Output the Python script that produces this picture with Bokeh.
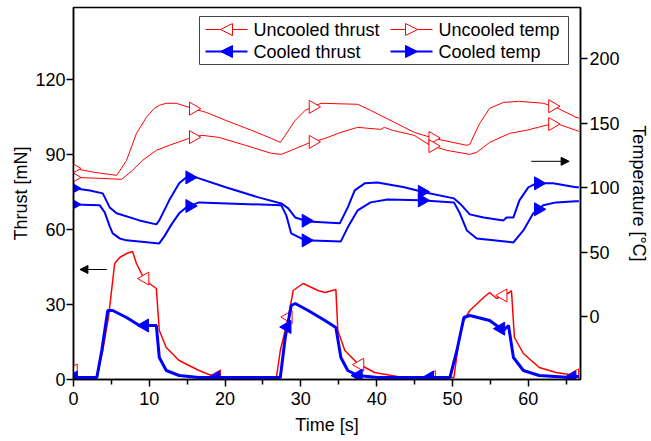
import numpy as np
from bokeh.plotting import figure
from bokeh.models import (Range1d, LinearAxis, FixedTicker, Arrow, NormalHead,
                          BoxAnnotation, Label)
from bokeh.embed import file_html
from bokeh.resources import INLINE

# ---------------- data ----------------
# Uncooled thrust [mN]
t_uncooled_thrust = [0, 0.33, 0.59, 3.08, 3.86, 4.65, 5.43, 6.09, 7.0, 7.79, 8.31, 9.10, 10.01,
                     10.93, 11.32, 12.24, 13.94, 16.56, 17.87, 19.57, 26.77, 27.29, 28.34, 28.99,
                     30.30, 32.26, 33.18, 34.62, 34.88, 35.80, 37.50, 39.72, 42.73, 50.20, 50.85,
                     51.51, 52.29, 54.12, 54.91, 55.83, 57.53, 57.79, 58.18, 59.36, 61.45, 63.68,
                     66.30, 66.69]
uncooled_thrust = [3.6, 3.6, 0.8, 0.8, 11.6, 25.6, 46.4, 48.8, 50.4, 51.2, 46.4, 41.6, 38.4,
                   36.4, 19.6, 12.8, 7.6, 3.6, 2.0, 0.8, 0.8, 11.6, 24.8, 35.6,
                   38.4, 35.6, 34.8, 36.0, 19.6, 11.6, 6.4, 2.8, 1.2, 0.8, 15.6,
                   23.6, 27.6, 32.8, 34.8, 32.4, 34.8, 35.6, 16.8, 10.4, 4.8, 2.8,
                   1.6, 1.6]

# Cooled thrust [mN]
t_cooled_thrust = [0, 3.08, 3.73, 4.52, 5.17, 7.00, 8.70, 10.93, 11.32, 12.24, 13.94, 16.56,
                   27.29, 27.94, 28.73, 29.25, 30.96, 33.18, 34.62, 35.28, 36.19, 37.50, 40.12,
                   49.67, 50.59, 51.51, 52.29, 54.91, 56.74, 57.40, 58.05, 59.36, 61.45, 65.64,
                   66.30, 66.69]
cooled_thrust = [0.8, 0.8, 11.6, 27.6, 27.6, 24.8, 21.6, 21.6, 8.8, 3.6, 1.6, 0.8,
                 0.8, 16.8, 29.6, 30.4, 27.6, 23.6, 20.8, 8.8, 3.6, 1.6, 0.8,
                 0.8, 11.6, 24.8, 25.6, 23.6, 19.6, 21.6, 8.8, 3.6, 1.6, 0.8,
                 1.2, 1.2]

# Uncooled temperatures [C] (two thermocouples)
t_uncooled_temp_a = [0, 2.81, 5.69, 7.00, 8.31, 9.62, 10.67, 11.32, 12.24, 13.55, 15.64, 17.47,
                     20.09, 23.49, 26.11, 27.29, 27.94, 29.25, 30.56, 32.66, 37.50, 39.20, 42.34,
                     44.96, 47.58, 51.90, 52.29, 53.60, 54.91, 56.74, 58.84, 61.98, 63.68, 66.30,
                     66.69]
uncooled_temp_a = [115.0, 111.9, 109.6, 121.2, 142.2, 154.7, 161.7, 164.0, 165.6, 165.6, 161.7,
                   158.6, 152.3, 144.6, 138.3, 135.2, 140.7, 152.3, 160.1, 165.6, 164.8, 160.1,
                   150.8, 143.0, 138.3, 132.9, 133.7, 150.0, 161.7, 166.3, 167.1, 165.6, 162.4,
                   154.7, 154.0]
t_uncooled_temp_b = [0, 3.47, 6.35, 7.79, 9.10, 10.93, 12.63, 15.64, 16.95, 19.18, 22.71, 26.11,
                     27.42, 28.73, 30.96, 33.18, 35.28, 37.50, 40.51, 41.03, 42.08, 44.96, 47.05,
                     49.28, 52.29, 53.21, 54.91, 57.53, 59.75, 62.37, 63.68, 66.30, 66.69]
uncooled_temp_b = [108.0, 107.3, 106.5, 113.5, 121.2, 129.0, 132.9, 139.1, 140.7, 139.1, 132.9,
                   126.7, 125.9, 129.0, 134.5, 138.3, 143.0, 146.9, 145.3, 146.9, 144.6, 140.7,
                   132.9, 129.0, 125.9, 127.5, 135.2, 142.2, 144.6, 148.5, 150.0, 144.6, 143.8]

# Cooled temperatures [C] (two thermocouples)
t_cooled_temp_a = [0, 2.16, 3.86, 4.78, 5.69, 8.70, 10.93, 11.32, 12.63, 13.94, 14.86, 16.16,
                   20.09, 24.41, 27.42, 28.34, 29.25, 30.96, 35.14, 36.19, 37.11, 38.42, 40.12,
                   43.65, 46.27, 50.20, 50.98, 52.29, 54.12, 56.74, 57.13, 58.05, 58.84, 60.01,
                   61.06, 63.28, 66.30, 66.69]
cooled_temp_a = [99.5, 97.9, 95.6, 84.7, 80.1, 74.6, 71.5, 74.6, 90.2, 103.4, 108.0, 108.0,
                 100.3, 92.5, 87.8, 83.9, 76.9, 73.8, 72.3, 84.7, 97.9, 103.4, 104.1,
                 100.3, 96.4, 91.7, 87.8, 79.3, 76.9, 74.6, 76.9, 76.9, 90.2, 100.3,
                 103.4, 103.4, 100.3, 100.3]
t_cooled_temp_b = [0, 3.47, 4.12, 4.78, 5.17, 6.09, 7.00, 11.32, 11.98, 13.02, 13.94, 14.86,
                   16.56, 27.42, 28.08, 28.73, 30.56, 35.28, 36.19, 37.50, 39.20, 41.43, 45.75,
                   50.20, 50.98, 51.90, 53.21, 58.05, 59.36, 60.67, 61.98, 63.68, 66.30, 66.69]
cooled_temp_b = [87.0, 86.3, 80.8, 70.0, 64.5, 60.6, 59.1, 56.7, 62.2, 72.3, 80.1, 84.7,
                 88.6, 86.3, 78.5, 64.5, 59.1, 58.3, 69.2, 82.4, 88.6, 90.9, 90.2,
                 88.6, 80.1, 66.8, 60.6, 57.5, 66.8, 80.1, 86.3, 88.6, 89.4, 89.4]

# marker times [s]
uncooled_thrust_marks = [0, 9.45, 18.9, 28.35, 37.8, 47.25, 56.7, 66.15]
cooled_thrust_marks = [0, 9.4, 18.8, 28.2, 37.6, 47.0, 56.4, 65.8]
uncooled_temp_marks = [0, 15.8, 31.6, 47.4, 63.2]
cooled_temp_marks = [0, 15.33, 30.67, 46.0, 61.33]

# axes
x_ticks = [0, 10, 20, 30, 40, 50, 60]
x_minor = [5, 15, 25, 35, 45, 55, 65]
thrust_ticks = [0, 30, 60, 90, 120]
temp_ticks = [0, 50, 100, 150, 200]

# arrows (time, value)
left_arrow = dict(x_start=4.4, x_end=0.85, y=44.0)
right_arrow = dict(x_start=60.4, x_end=65.4, y=120.5)

# legend labels
legend_labels = ["Uncooled thrust", "Cooled thrust", "Uncooled temp", "Cooled temp"]

RED = "#ff0000"
BLUE = "#0000ff"
FONT = "Liberation Sans"

p = figure(width=651, height=441, x_range=Range1d(0, 66.9), y_range=Range1d(0, 148.8),
           output_backend="svg", toolbar_location=None,
           min_border_left=73, min_border_right=68, min_border_top=7, min_border_bottom=62)
p.extra_y_ranges = {"temp": Range1d(-49, 240)}
p.grid.visible = False
p.outline_line_color = "black"
p.outline_line_width = 1.5
p.background_fill_color = "white"


def style_axis(ax):
    ax.axis_line_width = 1.5
    ax.axis_line_color = "black"
    ax.major_tick_line_width = 1.5
    ax.minor_tick_line_width = 1.5
    ax.major_tick_in = 0
    ax.minor_tick_in = 0
    ax.major_tick_out = 7
    ax.minor_tick_out = 5
    ax.major_label_text_font = FONT
    ax.major_label_text_font_size = "18px"
    ax.major_label_text_color = "black"
    ax.axis_label_text_font = FONT
    ax.axis_label_text_font_size = "18px"
    ax.axis_label_text_font_style = "normal"
    ax.axis_label_text_color = "black"


xa = p.xaxis[0]
style_axis(xa)
xa.ticker = FixedTicker(ticks=x_ticks, minor_ticks=x_minor)
xa.axis_label = "Time [s]"
xa.major_label_standoff = 5
xa.axis_label_standoff = 7

ya = p.yaxis[0]
style_axis(ya)
ya.ticker = FixedTicker(ticks=thrust_ticks)
ya.axis_label = "Thrust [mN]"
ya.major_label_standoff = 1
ya.axis_label_standoff = 1

ra = LinearAxis(y_range_name="temp")
style_axis(ra)
ra.ticker = FixedTicker(ticks=temp_ticks)
ra.axis_label = "Temperature [°C]"
ra.major_label_standoff = 2
ra.axis_label_standoff = 6
p.add_layout(ra, "right")

MS = 13
# thrust
p.line(t_uncooled_thrust, uncooled_thrust, color=RED, line_width=1.5)
p.scatter(uncooled_thrust_marks, np.interp(uncooled_thrust_marks, t_uncooled_thrust, uncooled_thrust),
          marker="triangle", angle=np.pi / 2, size=MS, line_color=RED, fill_color="white", line_width=1)
p.line(t_cooled_thrust, cooled_thrust, color=BLUE, line_width=3)
p.scatter(cooled_thrust_marks, np.interp(cooled_thrust_marks, t_cooled_thrust, cooled_thrust),
          marker="triangle", angle=np.pi / 2, size=MS, line_color=BLUE, fill_color=BLUE)

# temperatures
p.line(t_uncooled_temp_a, uncooled_temp_a, color=RED, line_width=1, y_range_name="temp")
p.scatter(uncooled_temp_marks, np.interp(uncooled_temp_marks, t_uncooled_temp_a, uncooled_temp_a),
          marker="triangle", angle=-np.pi / 2, size=MS, line_color=RED, fill_color="white",
          line_width=1, y_range_name="temp")
p.line(t_uncooled_temp_b, uncooled_temp_b, color=RED, line_width=1, y_range_name="temp")
p.scatter(uncooled_temp_marks, np.interp(uncooled_temp_marks, t_uncooled_temp_b, uncooled_temp_b),
          marker="triangle", angle=-np.pi / 2, size=MS, line_color=RED, fill_color="white",
          line_width=1, y_range_name="temp")
p.line(t_cooled_temp_a, cooled_temp_a, color=BLUE, line_width=2, y_range_name="temp")
p.scatter(cooled_temp_marks, np.interp(cooled_temp_marks, t_cooled_temp_a, cooled_temp_a),
          marker="triangle", angle=-np.pi / 2, size=MS, line_color=BLUE, fill_color=BLUE,
          y_range_name="temp")
p.line(t_cooled_temp_b, cooled_temp_b, color=BLUE, line_width=2, y_range_name="temp")
p.scatter(cooled_temp_marks, np.interp(cooled_temp_marks, t_cooled_temp_b, cooled_temp_b),
          marker="triangle", angle=-np.pi / 2, size=MS, line_color=BLUE, fill_color=BLUE,
          y_range_name="temp")

# arrows
p.add_layout(Arrow(end=NormalHead(size=8, fill_color="black", line_color="black"),
                   x_start=left_arrow["x_start"], y_start=left_arrow["y"],
                   x_end=left_arrow["x_end"], y_end=left_arrow["y"], line_width=1))
p.add_layout(Arrow(end=NormalHead(size=8, fill_color="black", line_color="black"),
                   x_start=right_arrow["x_start"], y_start=right_arrow["y"],
                   x_end=right_arrow["x_end"], y_end=right_arrow["y"], line_width=1,
                   y_range_name="temp"))

# ---------- legend (screen units, relative to the frame's bottom-left) ----------
p.add_layout(BoxAnnotation(left=126, right=495, bottom=315, top=363,
                           left_units="screen", right_units="screen",
                           top_units="screen", bottom_units="screen",
                           fill_color="white", fill_alpha=1,
                           line_color="#444444", line_width=1, line_alpha=1))

entries = [
    (legend_labels[0], RED, "left", False, 132, 350),
    (legend_labels[1], BLUE, "left", True, 132, 328),
    (legend_labels[2], RED, "right", False, 317, 350),
    (legend_labels[3], BLUE, "right", True, 317, 328),
]
GW = 42
HS = 12
for label, col, direction, filled, gx, gy in entries:
    lw = 2 if filled else 1
    p.add_layout(Arrow(start=None, end=None, x_start=gx, x_end=gx + GW, y_start=gy, y_end=gy,
                       start_units="screen", end_units="screen", line_color=col, line_width=lw))
    cx = gx + GW / 2
    if direction == "left":
        xs, xe = cx + HS / 2, cx - HS / 2
    else:
        xs, xe = cx - HS / 2, cx + HS / 2
    p.add_layout(Arrow(start=None,
                       end=NormalHead(size=HS, line_color=col, line_width=1,
                                      fill_color=col if filled else "white"),
                       x_start=xs, x_end=xe, y_start=gy, y_end=gy,
                       start_units="screen", end_units="screen", line_color=col, line_width=lw))
    p.add_layout(Label(x=gx + GW + 6, y=gy, x_units="screen", y_units="screen", text=label,
                       text_font=FONT, text_font_size="18px", text_baseline="middle",
                       text_align="left", text_color="black"))

open("out.html", "w").write(file_html(p, INLINE))
